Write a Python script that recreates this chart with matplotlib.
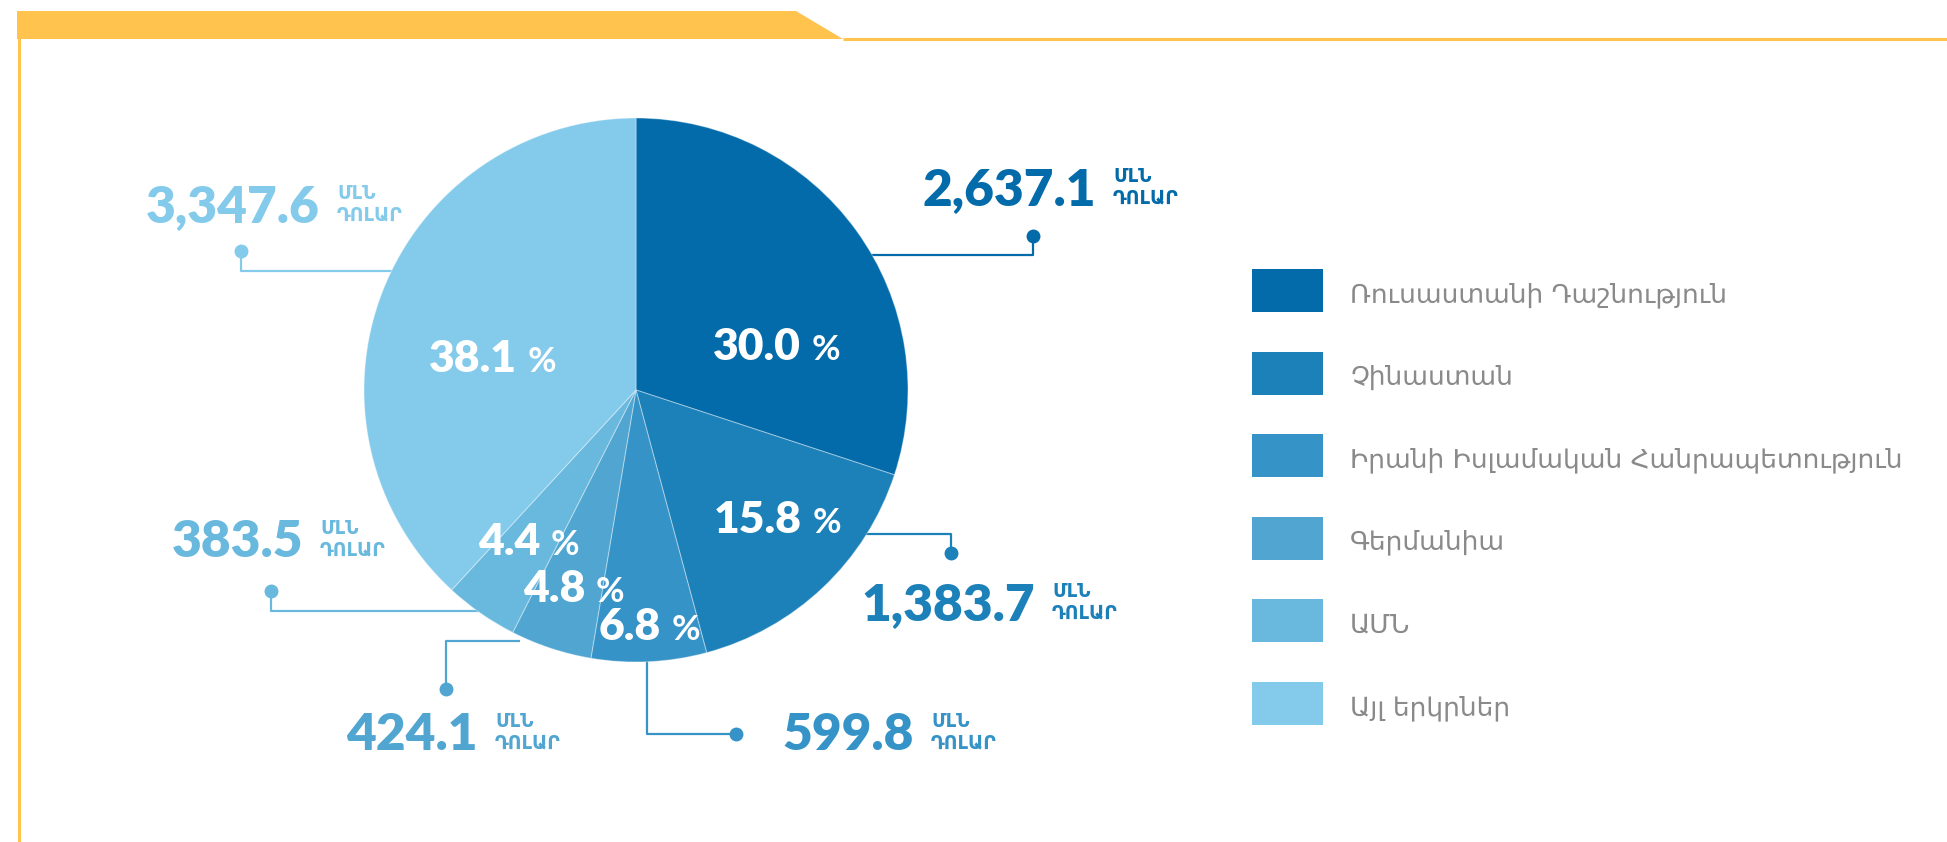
import matplotlib
matplotlib.use('Agg')
import matplotlib.pyplot as plt
from matplotlib.patches import Polygon, Rectangle

# ---------------- data ----------------
categories = ['Ռուսաստանի Դաշնություն', 'Չինաստան', 'Իրանի Իսլամական Հանրապետություն',
              'Գերմանիա', 'ԱՄՆ', 'Այլ երկրներ']
values = [2637.1, 1383.7, 599.8, 424.1, 383.5, 3347.6]
colors = ['#036BAA', '#1C80B9', '#3593C7', '#50A5D1', '#69B8DD', '#83CAEB']
unit_line1 = 'ՄԼՆ'
unit_line2 = 'ԴՈԼԱՐ'

# ---------------- layout ----------------
W, H = 1947, 842


def Y(y):
    return H - y


CX, CY, R = 636, 390, 272
yellow = '#FFC34E'
legend_gray = '#8A8A8A'
NUM_FONT = 'Lato'
NUM_WEIGHT = 'heavy'

fig = plt.figure(figsize=(W / 100, H / 100), dpi=100)
ax = fig.add_axes([0, 0, 1, 1])

wedges, _ = ax.pie(values, colors=colors, startangle=90, counterclock=False,
                   radius=R, center=(CX, Y(CY)), frame=True,
                   wedgeprops=dict(linewidth=0.8, edgecolor=(1, 1, 1, 0.35)))
for w in wedges:
    w.set_zorder(3)

ax.set_xlim(0, W)
ax.set_ylim(0, H)
ax.set_aspect('equal')
ax.axis('off')

# header decoration
ax.add_patch(Polygon([(17, Y(11)), (796, Y(11)), (843, Y(39)), (17, Y(39))],
                     closed=True, facecolor=yellow, edgecolor='none', zorder=1))
ax.plot([843, W], [Y(38.5), Y(38.5)], color=yellow, lw=2.2, solid_capstyle='butt', zorder=1)
ax.plot([18.5, 18.5], [Y(38), 0], color=yellow, lw=2.2, solid_capstyle='butt', zorder=1)

# percentage labels inside the pie
total = sum(values)
pct_junction = [(812, 360), (813, 533), (672, 640), (596, 602), (551, 555), (528, 372)]
for v, (jx, by) in zip(values, pct_junction):
    ax.text(jx - 11, Y(by), f'{v / total * 100:.1f}', ha='right', va='baseline',
            fontsize=32, fontweight=NUM_WEIGHT, family=NUM_FONT, color='white', zorder=5)
    ax.text(jx, Y(by), '%', ha='left', va='baseline', fontsize=25,
            fontweight='bold', family=NUM_FONT, color='white', zorder=5)

# connectors and value labels
connectors = [
    [(1033, 236), (1033, 255), (830, 255)],
    [(951, 553), (951, 534), (840, 534)],
    [(736, 734), (647, 734), (647, 640)],
    [(446, 689), (446, 641), (520, 641)],
    [(271, 591), (271, 611), (500, 611)],
    [(241, 251), (241, 271), (430, 271)],
]
unit_x = [1113, 1052, 931, 495, 320, 337]
val_base = [205, 620, 750, 750, 557, 222]

for v, c, path, ux, vb in zip(values, colors, connectors, unit_x, val_base):
    xs = [p[0] for p in path]
    ys = [Y(p[1]) for p in path]
    ax.plot(xs, ys, color=c, lw=1.6, zorder=2, solid_capstyle='butt')
    ax.plot(xs[0], ys[0], 'o', color=c, markersize=9, zorder=4)
    ax.text(ux - 17, Y(vb), f'{v:,.1f}', ha='right', va='baseline', fontsize=37,
            fontweight=NUM_WEIGHT, family=NUM_FONT, color=c, zorder=5)
    ax.text(ux, Y(vb - 23), unit_line1, ha='left', va='baseline', fontsize=13.5,
            fontweight='bold', family='DejaVu Sans', color=c, zorder=5)
    ax.text(ux, Y(vb - 1), unit_line2, ha='left', va='baseline', fontsize=13.5,
            fontweight='bold', family='DejaVu Sans', color=c, zorder=5)

# legend
for i, (cat, c) in enumerate(zip(categories, colors)):
    top = 269 + 82.6 * i
    ax.add_patch(Rectangle((1252, Y(top + 43)), 71, 43, facecolor=c, edgecolor='none', zorder=3))
    ax.text(1350, Y(top + 33), cat, ha='left', va='baseline', fontsize=19,
            family='DejaVu Sans', color=legend_gray, zorder=5)

fig.savefig('out.png', dpi=100, facecolor='white')
